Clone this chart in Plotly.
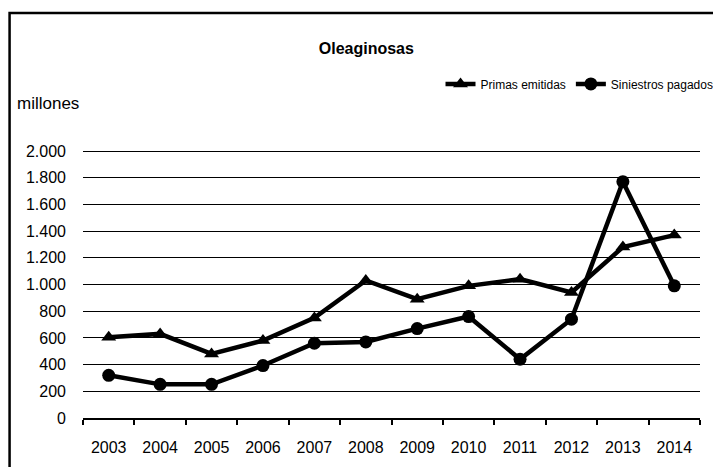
import plotly.graph_objects as go

years = ['2003', '2004', '2005', '2006', '2007', '2008',
         '2009', '2010', '2011', '2012', '2013', '2014']
primas = [605, 630, 480, 580, 750, 1030, 890, 990, 1040, 940, 1280, 1370]
siniestros = [320, 252, 252, 393, 560, 570, 670, 760, 440, 740, 1770, 990]

fig = go.Figure()

fig.add_trace(go.Scatter(
    x=years, y=primas, name='Primas emitidas', mode='lines+markers',
    line=dict(color='black', width=4.5),
    marker=dict(symbol='triangle-up', size=13, color='black')
))
fig.add_trace(go.Scatter(
    x=years, y=siniestros, name='Siniestros pagados', mode='lines+markers',
    line=dict(color='black', width=4.5),
    marker=dict(symbol='circle', size=13, color='black')
))

# page body has an 8px margin, so the margins are shifted to compensate
fig.update_layout(
    width=721, height=467,
    margin=dict(l=75, r=29, t=141, b=57, autoexpand=False),
    paper_bgcolor='white', plot_bgcolor='white',
    separators=',.',
    font=dict(family='Liberation Sans, Arial', color='black', size=16),
    title=dict(text='<b>Oleaginosas</b>', x=0.497, xanchor='center',
               y=0.914, yanchor='middle', font=dict(size=16)),
    showlegend=True,
    legend=dict(orientation='h', x=1.03, xanchor='right', y=1.242, yanchor='middle',
                font=dict(size=12), bgcolor='rgba(0,0,0,0)',
                itemwidth=30, tracegroupgap=0),
    annotations=[dict(text='millones', xref='paper', yref='paper',
                      x=-0.11, xanchor='left', y=1.171, yanchor='middle',
                      showarrow=False, font=dict(size=17))],
    shapes=[dict(type='rect', xref='paper', yref='paper',
                 x0=-0.119, x1=1.1, y0=-0.3, y1=1.506,
                 line=dict(color='black', width=2.5))]
)

fig.update_xaxes(
    type='category', range=[-0.5, 11.5], tickson='boundaries',
    ticks='outside', ticklen=5, tickcolor='black', tickwidth=1.5,
    showline=True, linecolor='black', linewidth=1.5,
    showgrid=False, ticklabelstandoff=14, automargin=False,
    tickfont=dict(size=16)
)
fig.update_yaxes(
    range=[0, 2015], tickvals=[0, 200, 400, 600, 800, 1000, 1200, 1400, 1600, 1800, 2000],
    tickformat=',',
    showgrid=True, gridcolor='black', gridwidth=1.2,
    zeroline=False, showline=False, ticks='',
    ticklabelstandoff=16, automargin=False, tickfont=dict(size=16)
)

fig.write_html('out.html')
